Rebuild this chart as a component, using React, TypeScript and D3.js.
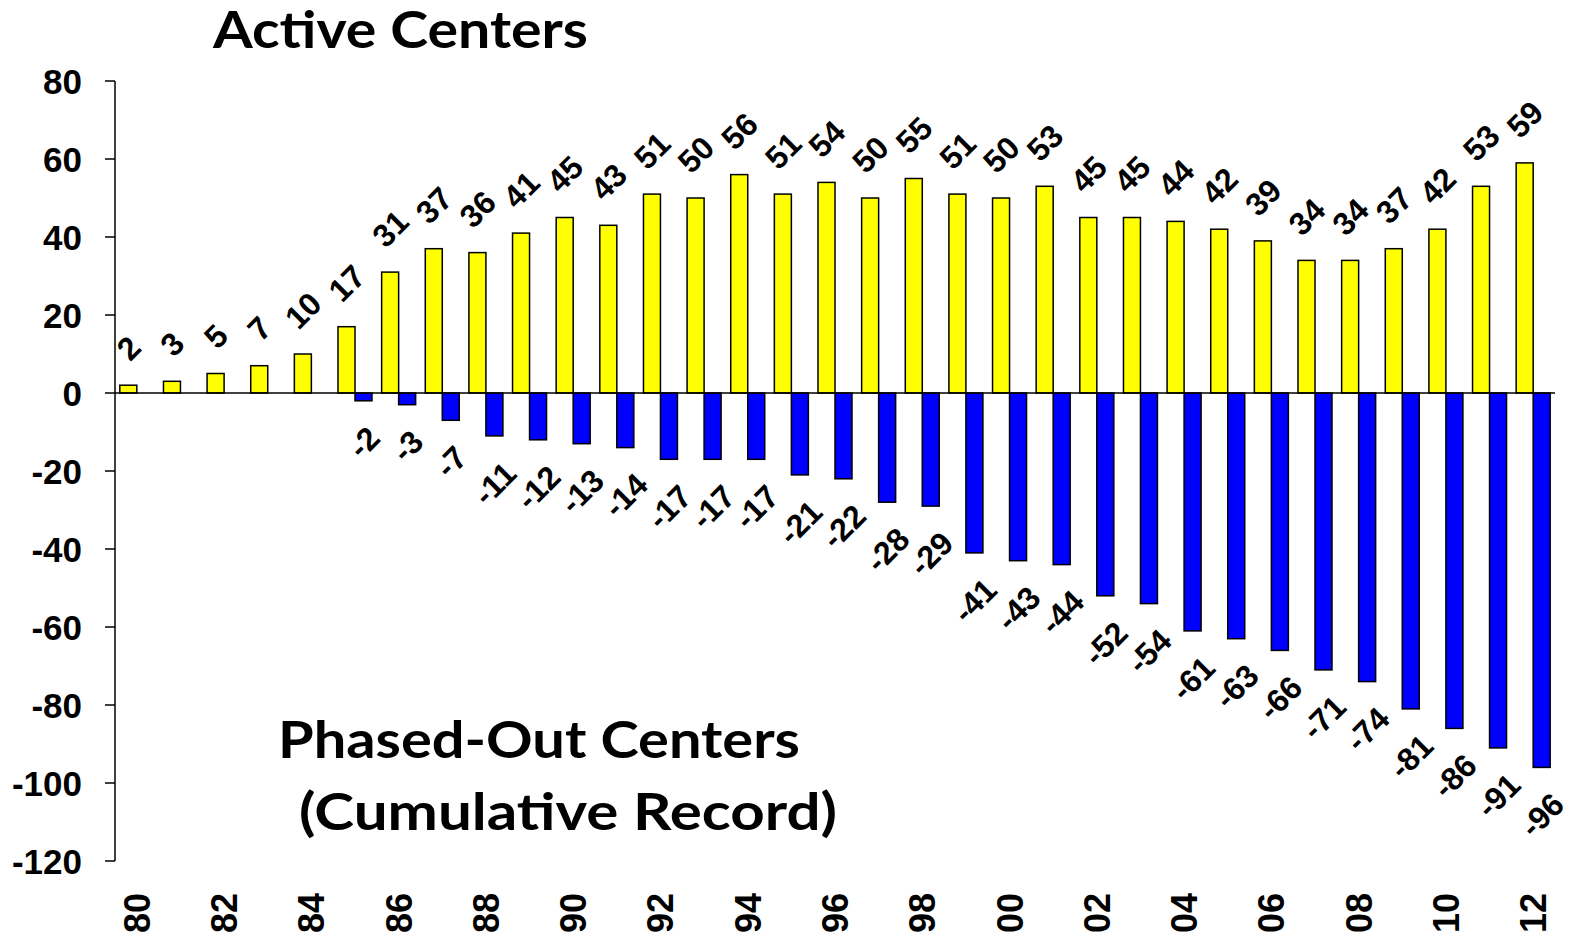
import React from "react";
import * as d3 from "d3";

const years = ["80","81","82","83","84","85","86","87","88","89","90","91","92","93","94","95","96","97","98","99","00","01","02","03","04","05","06","07","08","09","10","11","12"];
const activeCenters = [2,3,5,7,10,17,31,37,36,41,45,43,51,50,56,51,54,50,55,51,50,53,45,45,44,42,39,34,34,37,42,53,59];
const phasedOutCenters = [0,0,0,0,0,-2,-3,-7,-11,-12,-13,-14,-17,-17,-17,-21,-22,-28,-29,-41,-43,-44,-52,-54,-61,-63,-66,-71,-74,-81,-86,-91,-96];
const yTicks = [80,60,40,20,0,-20,-40,-60,-80,-100,-120];
const xTickLabels = ["80","82","84","86","88","90","92","94","96","98","00","02","04","06","08","10","12"];

const W = 1577, H = 936;
const LEFT = 115, RIGHT = 1555, TOP = 81, BOTTOM = 861;
const LABEL_FONT = "'Liberation Sans', Arial, sans-serif";
const TITLE_FONT = "Lato, 'Open Sans', sans-serif";

function textWidth(s: string, fs: number) {
  let w = 0;
  for (const ch of s) w += ch === "-" ? 0.333 : 0.556;
  return w * fs;
}

export default function App() {
  const x0 = d3.scaleBand<string>().domain(years).range([LEFT, RIGHT]).paddingInner(0).paddingOuter(0);
  const x1 = d3.scaleBand<string>().domain(["active", "phased"]).range([0, x0.bandwidth()]).paddingInner(0).paddingOuter(0.2835);
  const y = d3.scaleLinear().domain([-120, 80]).range([BOTTOM, TOP]);
  const y0 = y(0);
  const lfs = 32;
  const gap = 23;

  const labelPos = (v: number, xc: number) => {
    const s = String(v);
    const w = textWidth(s, lfs);
    const hh = (w + 0.716 * lfs) * 0.7071;
    const cy = v >= 0 ? y(v) - gap - hh / 2 : y(v) + gap + hh / 2;
    return { s, cx: xc, cy };
  };

  return (
    <svg width={W} height={H} style={{ position: "fixed", left: 0, top: 0, background: "#fff" }}>
      <rect x={0} y={0} width={W} height={H} fill="#fff" />
      {years.map((yr, i) => {
        const bx = x0(yr)!;
        const a = activeCenters[i];
        const p = phasedOutCenters[i];
        return (
          <g key={yr}>
            <rect x={bx + x1("active")!} y={y(a)} width={x1.bandwidth()} height={y0 - y(a)} fill="#FFFF00" stroke="#000" strokeWidth={1.5} />
            {p < 0 && (
              <rect x={bx + x1("phased")!} y={y0} width={x1.bandwidth()} height={y(p) - y0} fill="#0000FF" stroke="#000" strokeWidth={1.5} />
            )}
          </g>
        );
      })}
      <line x1={LEFT} x2={RIGHT} y1={y0} y2={y0} stroke="#000" strokeWidth={1.5} />
      <line x1={LEFT} x2={LEFT} y1={TOP} y2={BOTTOM} stroke="#000" strokeWidth={1.5} />
      {yTicks.map((t) => (
        <g key={t}>
          <line x1={LEFT - 10} x2={LEFT} y1={y(t)} y2={y(t)} stroke="#000" strokeWidth={1.5} />
          <text x={82} y={y(t)} dy="0.36em" textAnchor="end" fontFamily={LABEL_FONT} fontWeight="bold" fontSize={35}>{t}</text>
        </g>
      ))}
      {xTickLabels.map((l) => {
        const cx = x0(l)! + x0.bandwidth() / 2;
        return (
          <text key={l} transform={`translate(${cx},893) rotate(-90)`} dy="0.36em" textAnchor="end" fontFamily={LABEL_FONT} fontWeight="bold" fontSize={36}>{l}</text>
        );
      })}
      {years.map((yr, i) => {
        const bx = x0(yr)!;
        const out = [];
        const a = labelPos(activeCenters[i], bx + x1("active")! + x1.bandwidth() / 2);
        out.push(
          <text key={"a" + yr} transform={`translate(${a.cx},${a.cy}) rotate(-45)`} dy="0.36em" textAnchor="middle" fontFamily={LABEL_FONT} fontWeight="bold" fontSize={lfs}>{a.s}</text>
        );
        if (phasedOutCenters[i] < 0) {
          const p = labelPos(phasedOutCenters[i], bx + x1("phased")! + x1.bandwidth() / 2);
          out.push(
            <text key={"p" + yr} transform={`translate(${p.cx},${p.cy}) rotate(-45)`} dy="0.36em" textAnchor="middle" fontFamily={LABEL_FONT} fontWeight="bold" fontSize={lfs}>{p.s}</text>
          );
        }
        return out;
      })}
      <text x={213} y={48} fontFamily={TITLE_FONT} fontWeight="bold" fontSize={52} textLength={375} lengthAdjust="spacingAndGlyphs">Active Centers</text>
      <text x={278} y={758} fontFamily={TITLE_FONT} fontWeight="bold" fontSize={51} textLength={522} lengthAdjust="spacingAndGlyphs">Phased-Out Centers</text>
      <text x={299} y={830} fontFamily={TITLE_FONT} fontWeight="bold" fontSize={51} textLength={538} lengthAdjust="spacingAndGlyphs">(Cumulative Record)</text>
    </svg>
  );
}
